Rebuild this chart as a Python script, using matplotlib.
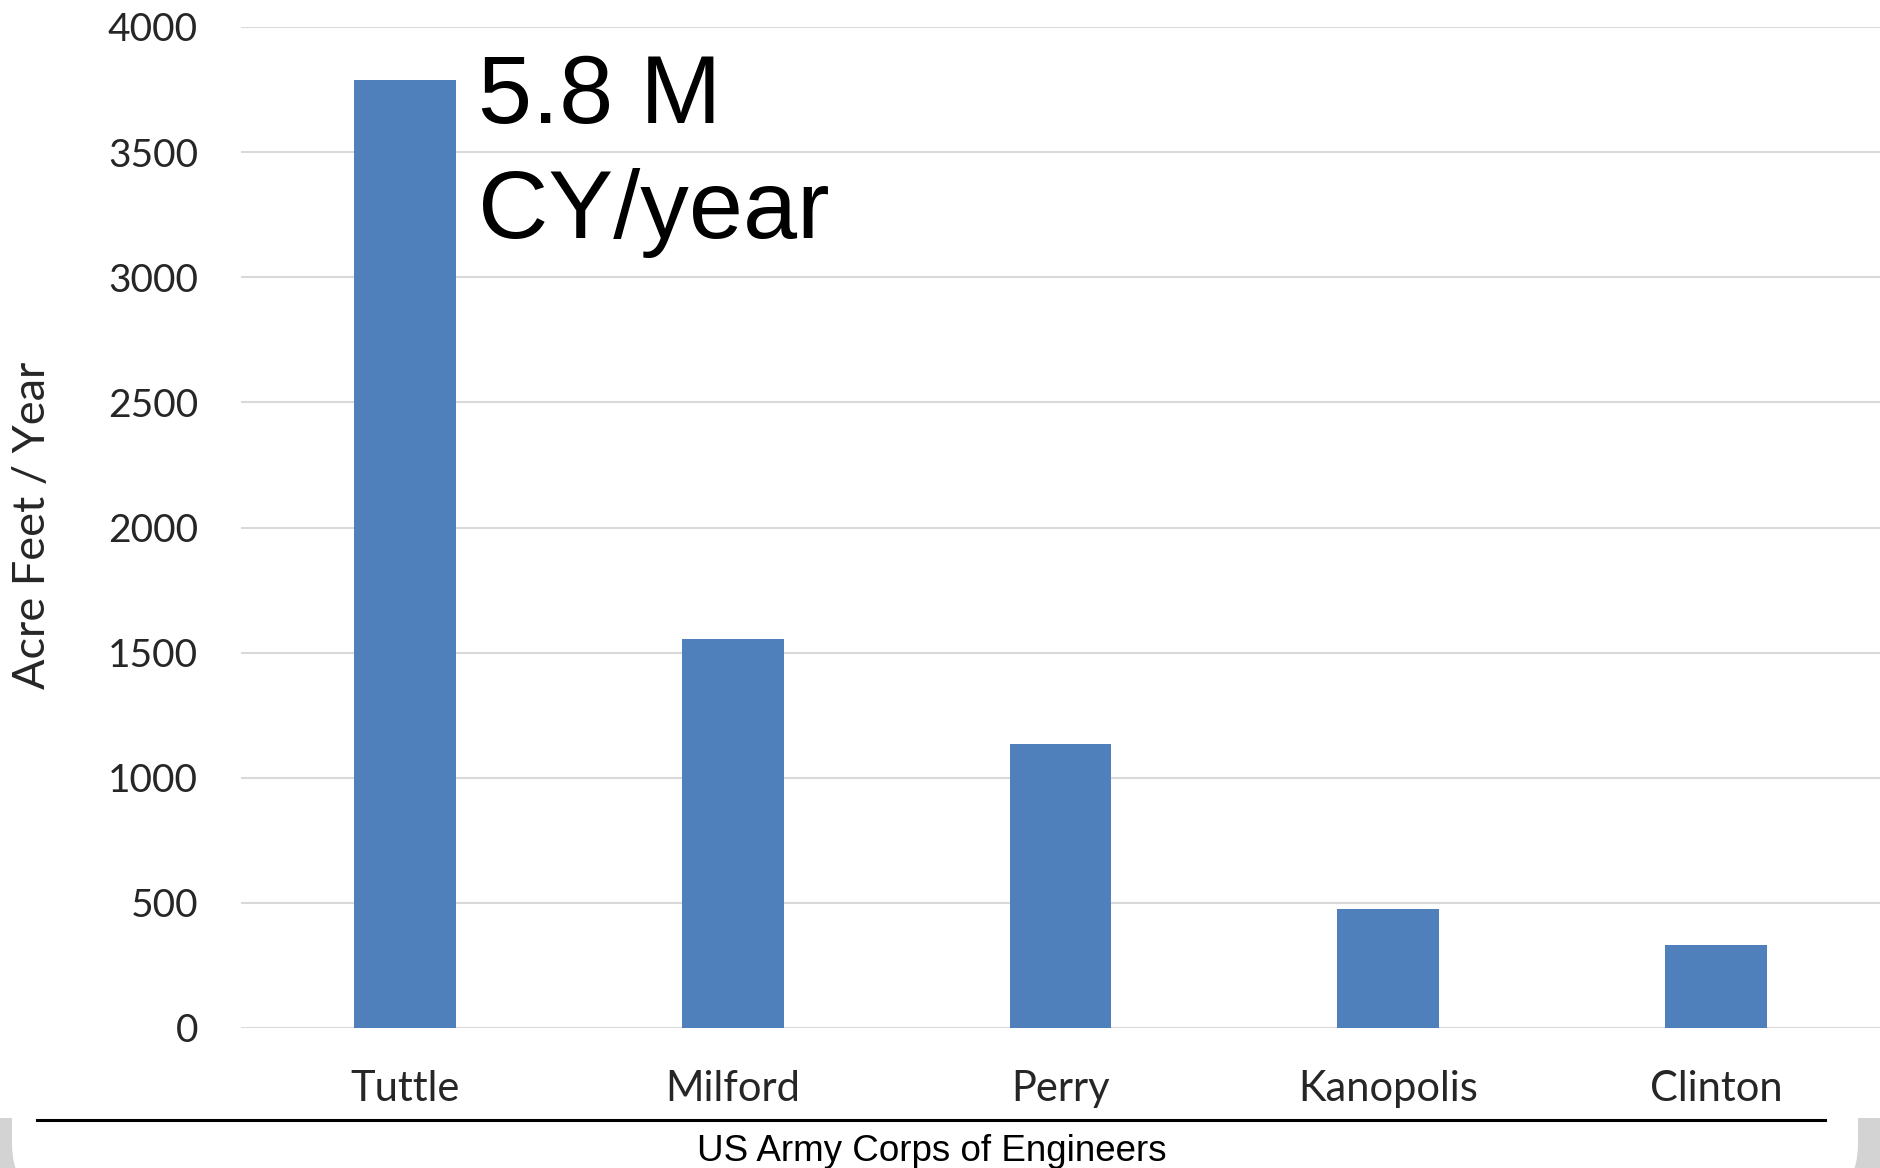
import matplotlib
matplotlib.use("Agg")
import matplotlib.pyplot as plt
from matplotlib.patches import Rectangle, FancyBboxPatch

categories = ["Tuttle", "Milford", "Perry", "Kanopolis", "Clinton"]
values = [3790, 1555, 1135, 476, 333]
yticks = [0, 500, 1000, 1500, 2000, 2500, 3000, 3500, 4000]
ylabel = "Acre Feet / Year"
annotation = "5.8 M\nCY/year"
footer = "US Army Corps of Engineers"

W, H = 1880, 1168
fig = plt.figure(figsize=(W / 100, H / 100), dpi=100)
fig.patch.set_facecolor("white")

def fx(px):
    return px / W

def fy(py):
    return 1 - py / H

# slide frame corners (grey) behind a white rounded slide
fig.patches.append(Rectangle((0, fy(H)), 1, fy(1118) - fy(H), transform=fig.transFigure,
                             facecolor="#d3d3d3", edgecolor="none", zorder=-3))
fig.patches.append(FancyBboxPatch((fx(12), fy(1200)), fx(1858 - 12), fy(1000) - fy(1200),
                                  boxstyle="round,pad=0,rounding_size=0.03",
                                  transform=fig.transFigure, facecolor="white",
                                  edgecolor="none", zorder=-2,
                                  mutation_aspect=W / H))
fig.patches.append(Rectangle((0, fy(1118)), 1, fy(0) - fy(1118),
                             transform=fig.transFigure, facecolor="white", edgecolor="none",
                             zorder=-2.5))

ax = fig.add_axes([fx(241), fy(1028), fx(1880 - 241), fy(27) - fy(1028)])
ax.set_facecolor("none")
x = range(len(categories))
ax.bar(x, values, width=0.31, color="#4f80bc", zorder=3)
ax.set_xlim(-0.5, len(categories) - 0.5)
ax.set_ylim(0, 4000)
ax.set_yticks(yticks)
ax.set_xticks(list(x))
ax.set_xticklabels(categories)
for s in ax.spines.values():
    s.set_visible(False)
ax.grid(axis="y", color="#d9d9d9", linewidth=1.5, zorder=0)
ax.set_axisbelow(True)
ax.tick_params(axis="both", length=0, labelcolor="#262626")
ax.tick_params(axis="y", pad=31, labelsize=28)
ax.tick_params(axis="x", pad=30, labelsize=30)
for lab in ax.get_xticklabels() + ax.get_yticklabels():
    lab.set_fontfamily("Lato")

fig.text(fx(33), fy(525), ylabel, rotation=90, ha="center", va="center",
         fontsize=32.5, family="Lato", color="#262626")

fig.text(fx(478), fy(238), annotation, ha="left", va="baseline", fontsize=70,
         family="Liberation Sans", color="black", linespacing=1.36)

fig.add_artist(plt.Line2D([fx(37), fx(1825)], [fy(1120), fy(1120)], color="black",
                          linewidth=2.2, transform=fig.transFigure))
fig.text(fx(932), fy(1161), footer, ha="center", va="baseline", fontsize=26.5,
         family="Liberation Sans", color="black")

fig.savefig("out.png", dpi=100)
